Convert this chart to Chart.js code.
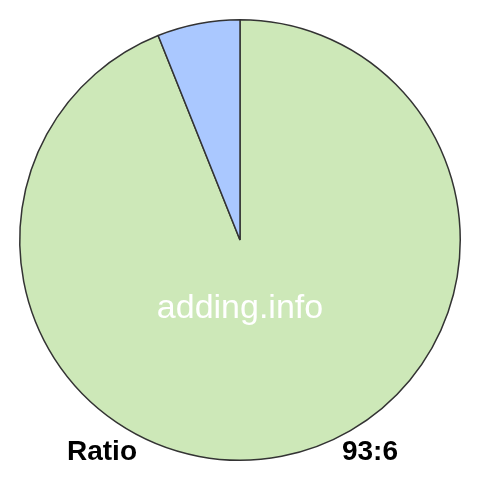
<!DOCTYPE html>
<html>
<head>
<meta charset="utf-8">
<script src="https://cdn.jsdelivr.net/npm/chart.js@4"></script>
<style>
  html, body { margin: 0; padding: 0; background: #fff; }
  #wrap { width: 480px; height: 480px; }
</style>
</head>
<body>
<div id="wrap"><canvas id="pieChart" width="480" height="480"></canvas></div>
<script>
const sliceLabels = ['93', '6'];
const sliceValues = [93, 6];
const sliceColors = ['#cde8b8', '#aac8ff'];
const watermark = 'adding.info';
const leftCaption = 'Ratio';
const rightCaption = sliceValues.join(':');

// captions and watermark drawn on top of the pie
const textPlugin = {
  id: 'captions',
  afterDraw(chart) {
    const ctx = chart.ctx;
    const arc = chart.getDatasetMeta(0).data[0];
    ctx.save();
    ctx.fillStyle = '#ffffff';
    ctx.font = '34px "Liberation Sans", Arial, sans-serif';
    ctx.textAlign = 'center';
    ctx.textBaseline = 'alphabetic';
    ctx.fillText(watermark, arc.x, arc.y + 78);

    ctx.fillStyle = '#000000';
    ctx.font = 'bold 28px "Liberation Sans", Arial, sans-serif';
    ctx.textAlign = 'left';
    ctx.fillText(leftCaption, 67, 460);
    ctx.textAlign = 'right';
    ctx.fillText(rightCaption, 398, 460);
    ctx.restore();
  }
};

new Chart(document.getElementById('pieChart').getContext('2d'), {
  type: 'pie',
  data: {
    labels: sliceLabels,
    datasets: [{
      data: sliceValues,
      backgroundColor: sliceColors,
      borderColor: '#333333',
      borderWidth: 1.5
    }]
  },
  options: {
    responsive: false,
    animation: false,
    layout: { padding: 19 },
    plugins: {
      legend: { display: false },
      tooltip: { enabled: false }
    }
  },
  plugins: [textPlugin]
});
</script>
</body>
</html>
